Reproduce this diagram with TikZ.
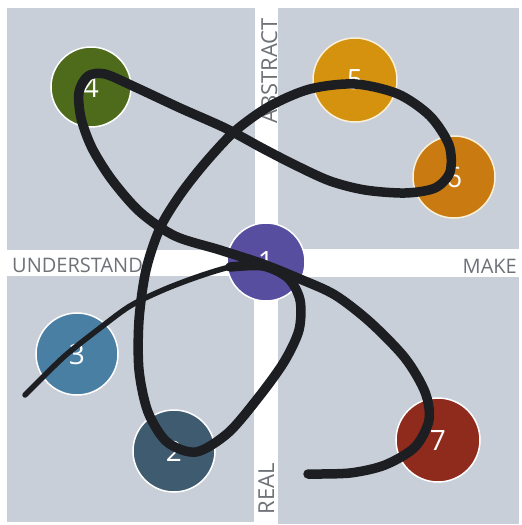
\documentclass[tikz,border=0pt]{standalone}
\usepackage{fontspec}
\setmainfont{Open Sans}
\definecolor{quad}{HTML}{C9CFD9}
\definecolor{ink}{HTML}{1C1E22}
\definecolor{lab}{HTML}{6E7277}
\definecolor{cone}{HTML}{574EA0}
\definecolor{ctwo}{HTML}{3F5B6F}
\definecolor{cthree}{HTML}{4A7FA4}
\definecolor{cfour}{HTML}{4E6B1C}
\definecolor{cfive}{HTML}{D4920F}
\definecolor{csix}{HTML}{C97B12}
\definecolor{cseven}{HTML}{8F2B1D}
\definecolor{cream}{HTML}{FAF0D7}
\tikzset{
  quadbox/.style={fill=quad, draw=none},
  axislabel/.style={text=lab, inner sep=0pt, font=\fontsize{20}{20}\selectfont},
  vaxislabel/.style={text=lab, inner sep=0pt, rotate=90, anchor=base, font=\fontsize{22}{22}\selectfont},
  stage/.style={circle, draw=white, line width=1.5pt, inner sep=0pt, text=white, font=\fontsize{28}{28}\selectfont},
  path line/.style={draw=ink, line cap=round, line join=round},
}
\begin{document}
\begin{tikzpicture}[x=1pt,y=-1pt]
\useasboundingbox (0,0) rectangle (522,525);
\fill[white] (0,0) rectangle (522,525);
% quadrants
\path[quadbox] (7,8) rectangle (255,250);
\path[quadbox] (278,8) rectangle (519,249);
\path[quadbox] (7,276) rectangle (254,522);
\path[quadbox] (278,277) rectangle (519,524);
% axis labels
\node[axislabel, anchor=base west] (und) at (12,272) {UNDERSTAND};
\node[axislabel, anchor=base east] (make) at (517,273) {MAKE};
\node[vaxislabel] (abs) at (277,71) {ABSTRACT};
\node[vaxislabel] (real) at (274,489) {REAL};
% stages
\node[stage, fill=cone, minimum size=78pt] (s1) at (266,262) {1};
\node[stage, fill=ctwo, minimum size=82pt] (s2) at (174,451) {2};
\node[stage, fill=cthree, minimum size=82pt] (s3) at (77,354) {3};
\node[stage, fill=cfour, minimum size=80pt] (s4) at (91,87) {4};
\node[stage, draw=cream, fill=cfive, minimum size=84pt] (s5) at (355,80) {5};
\node[stage, draw=cream, fill=csix, minimum size=82pt] (s6) at (454,177) {6};
\node[stage, fill=cseven, minimum size=84pt] (s7) at (438,440) {7};
% the path
\draw[path line, line width=5.5pt] plot[smooth] coordinates {
 (25,395) (45,375) (67,354) (100,328) (130,306) (163,290) (197,277) (230,267) (258,264)};
\draw[path line, line width=9.5pt] plot[smooth] coordinates {
 (230,267) (263,266) (288,278) (300,300) (299,330) (284,362) (258,398) (228,433) (196,452) (167,442) (148,412) (139,370) (139,320) (146,270) (160,228) (180,195) (205,163) (235,131) (270,106) (310,89) (355,84) (398,94) (430,116) (449,145) (450,172) (435,188) (405,193) (365,190) (330,181) (295,165) (262,148) (225,128) (180,108) (135,87) (105,74) (88,76) (79,92) (81,118) (92,148) (112,180) (140,212) (175,236) (220,250) (263,264) (300,279) (335,295) (370,322) (405,358) (425,392) (429,420) (415,447) (385,465) (350,473) (308,474)};
\end{tikzpicture}
\end{document}
